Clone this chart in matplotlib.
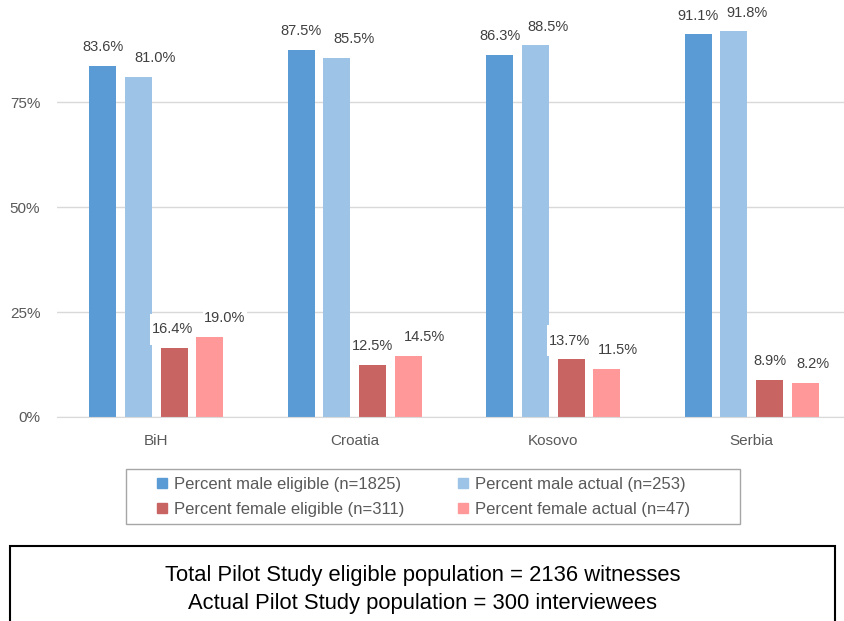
import matplotlib
matplotlib.use("Agg")
import matplotlib.pyplot as plt
import numpy as np
from matplotlib.patches import Rectangle, Patch
from matplotlib.path import Path

plt.rcParams['font.family'] = ['Liberation Sans', 'DejaVu Sans']

countries = ['BiH', 'Croatia', 'Kosovo', 'Serbia']
male_eligible = [83.6, 87.5, 86.3, 91.1]
male_actual = [81.0, 85.5, 88.5, 91.8]
female_eligible = [16.4, 12.5, 13.7, 8.9]
female_actual = [19.0, 14.5, 11.5, 8.2]
series_names = ['Percent male eligible (n=1825)', 'Percent male actual (n=253)',
                'Percent female eligible (n=311)', 'Percent female actual (n=47)']
colors = ['#5B9BD5', '#9DC3E6', '#C86462', '#FF9999']
yticks = [0, 25, 50, 75]
footer = ['Total Pilot Study eligible population = 2136 witnesses',
          'Actual Pilot Study population = 300 interviewees']

# horizontal nudges (pixels) of the data labels, as placed in the original
label_shift = [[0, 0, 0, 0],
               [17, 17, 13, 13],
               [-2, 0, -2, 0],
               [15, 16, 11, 8]]

W, H = 845, 621
fig = plt.figure(figsize=(W / 100, H / 100), dpi=100)
ax = fig.add_axes([57 / W, 1 - 417 / H, 1 - 57 / W, 417 / H])


def label_box(x0, y0, width, height, mutation_size):
    # white label box, thin on the sides, taller top/bottom (Excel style)
    px, py = 0.08 * mutation_size, 0.6 * mutation_size
    xa, xb = x0 - px, x0 + width + px
    ya, yb = y0 - py, y0 + height + py
    return Path([(xa, ya), (xb, ya), (xb, yb), (xa, yb), (xa, ya)],
                [Path.MOVETO, Path.LINETO, Path.LINETO, Path.LINETO, Path.CLOSEPOLY])


x = np.arange(len(countries))
width = 0.136
step = 0.18
all_series = [male_eligible, male_actual, female_eligible, female_actual]
for i, (vals, col) in enumerate(zip(all_series, colors)):
    pos = x + (i - 1.5) * step
    ax.bar(pos, np.array(vals) / 100, width, color=col, zorder=2)

# labels drawn after all bars so boxes overlap neighbours
for i, vals in enumerate(all_series):
    pos = x + (i - 1.5) * step
    for j, (p, v) in enumerate(zip(pos, vals)):
        ax.annotate('%.1f%%' % v, (p, v / 100), xytext=(label_shift[i][j] * 0.72, 13.5),
                    textcoords='offset points', ha='center', va='center', fontsize=10.5,
                    color='#404040', zorder=5,
                    bbox=dict(boxstyle=label_box, fc='white', ec='none'))

ax.set_xlim(-0.5, 3.47)
ax.set_ylim(0, 0.993)
ax.set_yticks([t / 100 for t in yticks])
ax.set_yticklabels(['%d%%' % t for t in yticks])
ax.set_xticks(x)
ax.set_xticklabels(countries)
ax.tick_params(length=0, labelsize=11, colors='#595959')
ax.tick_params(axis='x', pad=12)
ax.tick_params(axis='y', pad=12)
ax.grid(axis='y', color='#D9D9D9', lw=1, zorder=0)
for s in ['top', 'right', 'left']:
    ax.spines[s].set_visible(False)
ax.spines['bottom'].set_color('#D9D9D9')

# legend
fig.patches.append(Rectangle((126 / W, 1 - 524 / H), (740 - 126) / W, 55 / H,
                             transform=fig.transFigure, fill=False, ec='#A6A6A6', lw=1))
handles = [Patch(color=c) for c in colors]
order = [0, 2, 1, 3]
fig.legend([handles[k] for k in order], [series_names[k] for k in order], ncol=2,
           loc='center left', bbox_to_anchor=(142 / W, 1 - 497 / H), frameon=False,
           handlelength=0.6, handleheight=0.6, handletextpad=0.4, columnspacing=3.25,
           labelspacing=0.6, fontsize=12, labelcolor='#595959')

# footer box
fig.patches.append(Rectangle((10 / W, -0.05), (835 - 10) / W, 0.05 + 1 - 546 / H,
                             transform=fig.transFigure, fill=False, ec='black', lw=1.5,
                             clip_on=False))
fig.text(0.5, 1 - 576 / H, footer[0], ha='center', va='center', fontsize=15.8, color='black')
fig.text(0.5, 1 - 604 / H, footer[1], ha='center', va='center', fontsize=15.8, color='black')

fig.savefig('out.png', dpi=100)
